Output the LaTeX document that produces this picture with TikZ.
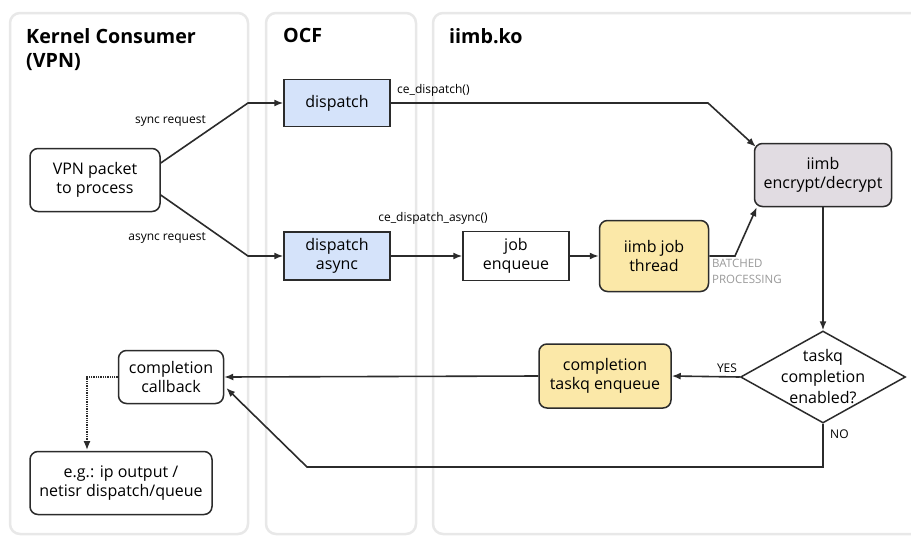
\documentclass[tikz,border=0pt]{standalone}
\usepackage{fontspec}
\setmainfont{Open Sans}
\usetikzlibrary{arrows.meta,positioning,calc,shapes.geometric}

\definecolor{laneborder}{HTML}{E8E8E8}
\definecolor{boxline}{HTML}{2B2B2B}
\definecolor{ocfblue}{HTML}{D5E3FA}
\definecolor{threadyellow}{HTML}{FBE8A8}
\definecolor{cryptogray}{HTML}{E1DCE2}
\definecolor{notegray}{HTML}{9A9A9A}

\begin{document}
\begin{tikzpicture}[
    x=1pt, y=-1pt,
    >={Latex[length=9pt,width=7pt]},
    lane/.style={draw=laneborder, line width=2.5pt, rounded corners=10pt, fill=white},
    lane title/.style={anchor=north west, inner sep=0pt, align=left, font=\fontsize{19.7}{24}\selectfont\bfseries},
    box/.style={draw=boxline, line width=1.5pt, align=center, inner sep=0pt, font=\fontsize{16}{19.5}\selectfont},
    round box/.style={box, rounded corners=8pt},
    flow/.style={->, line width=1.6pt, draw=boxline},
    edge label/.style={inner sep=0pt, font=\fontsize{12}{14}\selectfont},
]

\useasboundingbox (0,0) rectangle (911,536);

% Swim lanes
\draw[lane] (10,13) rectangle (248,534);
\draw[lane] (266,13) rectangle (416,534);
\draw[lane] (433,13) rectangle (940,534);

\node[lane title] (t1) at (26,28) {Kernel Consumer\\(VPN)};
\node[lane title] (t2) at (283,28) {OCF};
\node[lane title] (t3) at (449,28) {iimb.ko};

% Nodes
\node[round box, minimum width=130pt, minimum height=63pt] (vpn) at (95,180) {VPN packet\\to process};
\node[box, fill=ocfblue, minimum width=106pt, minimum height=47pt] (disp) at (337,103) {dispatch};
\node[box, fill=ocfblue, minimum width=106pt, minimum height=48pt] (dispa) at (337,256) {dispatch\\async};
\node[box, fill=white, minimum width=106pt, minimum height=49pt] (jobq) at (516,256) {job\\enqueue};
\node[round box, fill=threadyellow, minimum width=109pt, minimum height=71pt] (thread) at (654,256) {iimb job\\thread};
\node[round box, fill=cryptogray, minimum width=137pt, minimum height=63pt] (crypt) at (823,175) {iimb\\encrypt/decrypt};
\node[diamond, draw=boxline, line width=1.5pt, fill=white, inner sep=0pt,
      minimum width=165pt, minimum height=92pt] (check) at (823,377) {};
\node[align=center, inner sep=0pt, font=\fontsize{16}{21}\selectfont] (checktxt) at (check.center) {taskq\\completion\\enabled?};
\node[round box, fill=threadyellow, minimum width=132pt, minimum height=64pt] (taskq) at (605,376) {completion\\taskq enqueue};
\node[round box, fill=white, minimum width=105pt, minimum height=53pt] (cb) at (171,377) {completion\\callback};
\node[round box, fill=white, minimum width=182pt, minimum height=63pt] (out) at (121,483) {e.g.: ip output /\\netisr dispatch/queue};

% Request paths
\draw[flow] ($(vpn.east)+(0,-17)$) -- (248,103) -- (disp.west);
\draw[flow] ($(vpn.east)+(0,15)$) -- (248,256) -- (dispa.west);
\node[edge label, anchor=east] (lsync) at (206,121) {sync request};
\node[edge label, anchor=east] (lasync) at (206,238) {async request};

% Sync path
\draw[flow] (disp.east) -- (708,103) -- ($(crypt.north west)+(2,4)$);
\node[edge label, anchor=west] (lce) at (397,90) {ce\_dispatch()};

% Async path
\draw[flow] (dispa.east) -- (jobq.west);
\node[edge label] (lcea) at (433,218) {ce\_dispatch\_async()};
\draw[flow] (jobq.east) -- (thread.west);
\draw[flow] (thread.east) -- (735,256) -- ($(crypt.south west)+(3,0)$);
\node[edge label, anchor=north west, align=left, text=notegray, font=\fontsize{11.5}{16}\selectfont] (lbatch) at (712,259) {BATCHED\\PROCESSING};

% Completion
\draw[flow] (crypt.south) -- (check.north);
\draw[flow] (check.west) -- (taskq.east);
\node[edge label, anchor=south] (lyes) at (727,373) {YES};
\draw[flow] (taskq.west) -- (cb.east);
\draw[flow] (check.south) -- (823,467) -- (307,467) -- ($(cb.east)+(2,11)$);
\node[edge label, anchor=west] (lno) at (830,434) {NO};
\draw[->, line width=1.3pt, densely dotted, draw=boxline] (cb.west) -- (87,377) -- (87,450);

\end{tikzpicture}
\end{document}
